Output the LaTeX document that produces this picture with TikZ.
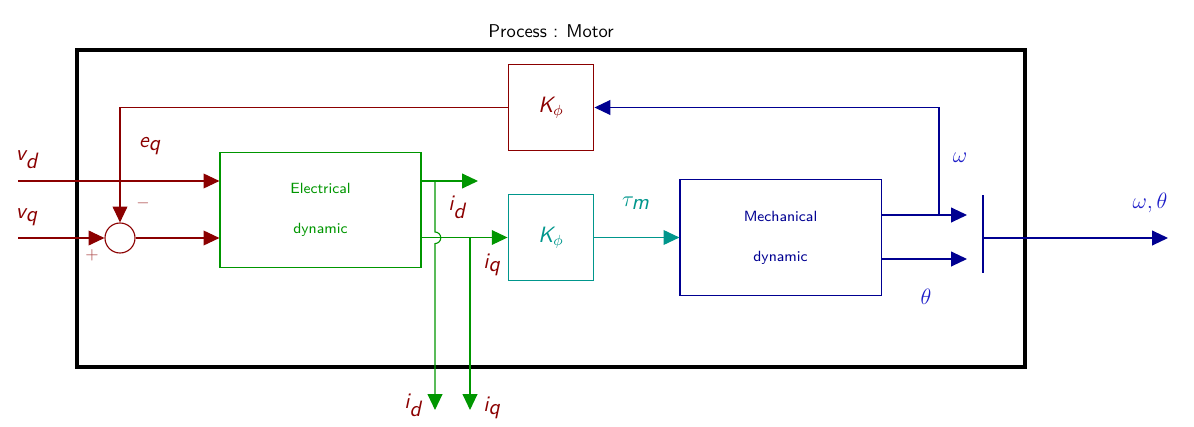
\documentclass[tikz,border=0pt]{standalone}
\usepackage{xcolor}
\usetikzlibrary{arrows.meta,positioning,calc}

\definecolor{mred}{RGB}{139,0,0}
\definecolor{mgreen}{RGB}{0,150,0}
\definecolor{mteal}{RGB}{0,150,140}
\definecolor{mblue}{RGB}{0,0,145}
\definecolor{lblue}{RGB}{30,30,200}

% sans italic letters in math
\newcommand{\sv}[1]{\textit{#1}}

\begin{document}
\begin{tikzpicture}[
  x=0.019cm, y=0.019cm,
  font=\sffamily,
  box/.style={rectangle, draw, semithick, minimum width=3.82cm,
              minimum height=2.17cm, align=center, font=\sffamily\footnotesize},
  gain/.style={rectangle, draw, semithick, minimum width=1.63cm,
               minimum height=1.63cm, font=\sffamily\large},
  sumc/.style={circle, draw, semithick, minimum size=0.57cm, inner sep=0pt},
  arr/.style={-{Triangle[length=3mm, width=2.8mm]}, semithick},
  lbl/.style={font=\sffamily\large},
]
\useasboundingbox (0,0) rectangle (1194,426);

% Frame and title
\node (title) at (551,395) {Process : Motor};
\draw[line width=2pt] (77,59) rectangle (1025,376);

% Blocks
\node[box, draw=mgreen, text=mgreen] (elec) at (320.5,216)
  {Electrical\\[4.3mm]dynamic};
\node[gain, draw=mred, text=mred] (kfb) at (551,318.5) {$\sv{K}_\phi$};
\node[gain, draw=mteal, text=mteal] (kt) at (551,188.5) {$\sv{K}_\phi$};
\node[box, draw=mblue, text=mblue, minimum height=2.19cm] (mech) at (780.5,188.5)
  {Mechanical\\[4.3mm]dynamic};
\node[sumc, draw=mred] (sum) at (120,188) {};

% Free ends
\coordinate (vd) at (18,245);
\coordinate (vq) at (18,188);
\coordinate (idout) at (478,245);
\coordinate (iddown) at (435,16);
\coordinate (iqdown) at (470,16);
\coordinate (wend) at (967,211);
\coordinate (thend) at (967,167);
\coordinate (bartop) at (983,231);
\coordinate (barbot) at (983,153);
\coordinate (out) at (1168,188);

% Inputs
\draw[arr, mred] (vd) -- (vd -| elec.west);
\draw[arr, mred] (vq) -- (sum.west);
\draw[arr, mred] (sum.east) -- (sum.east -| elec.west);
\draw[arr, mred] (kfb.west) -| (sum.north);
\node[lbl, text=mred] at (27,266) {$\sv{v}_{\sv{d}}$};
\node[lbl, text=mred] at (27,209) {$\sv{v}_{\sv{q}}$};
\node[lbl, text=mred] at (150,280) {$\sv{e}_{\sv{q}}$};
\node[text=mred!70, font=\small] at (92,171) {+};
\node[text=mred!70, font=\small] at (143,223) {$-$};

% Currents
\draw[arr, mgreen] (idout -| elec.east) -- (idout);
\draw[arr, mgreen] (elec.east |- kt.west) -- (kt.west);
\draw[arr, mgreen] (435,245) -- (435,194) arc[start angle=90, end angle=-90,
  radius=0.11cm] -- (iddown);
\draw[arr, mgreen] (iqdown |- kt.west) -- (iqdown);
\node[lbl, text=mred] at (457,219) {$\sv{i}_{\sv{d}}$};
\node[lbl, text=mred] at (492,161) {$\sv{i}_{\sv{q}}$};
\node[lbl, text=mred] at (413,21) {$\sv{i}_{\sv{d}}$};
\node[lbl, text=mred] at (492,18) {$\sv{i}_{\sv{q}}$};

% Torque
\draw[arr, mteal] (kt.east) -- (mech.west);
\node[lbl, text=mteal] at (636,223) {$\tau_{\sv{m}}$};

% Mechanical outputs
\draw[arr, mblue] (wend -| mech.east) -- (wend);
\draw[arr, mblue] (thend -| mech.east) -- (thend);
\draw[arr, mblue] (939,211) |- (kfb.east);
\draw[semithick, mblue] (bartop) -- (barbot);
\draw[arr, mblue] (bartop |- out) -- (out);
\node[lbl, text=lblue] at (960,268) {$\omega$};
\node[lbl, text=lblue] at (926,129) {$\theta$};
\node[lbl, text=lblue] at (1150,223) {$\omega,\theta$};

\end{tikzpicture}
\end{document}
